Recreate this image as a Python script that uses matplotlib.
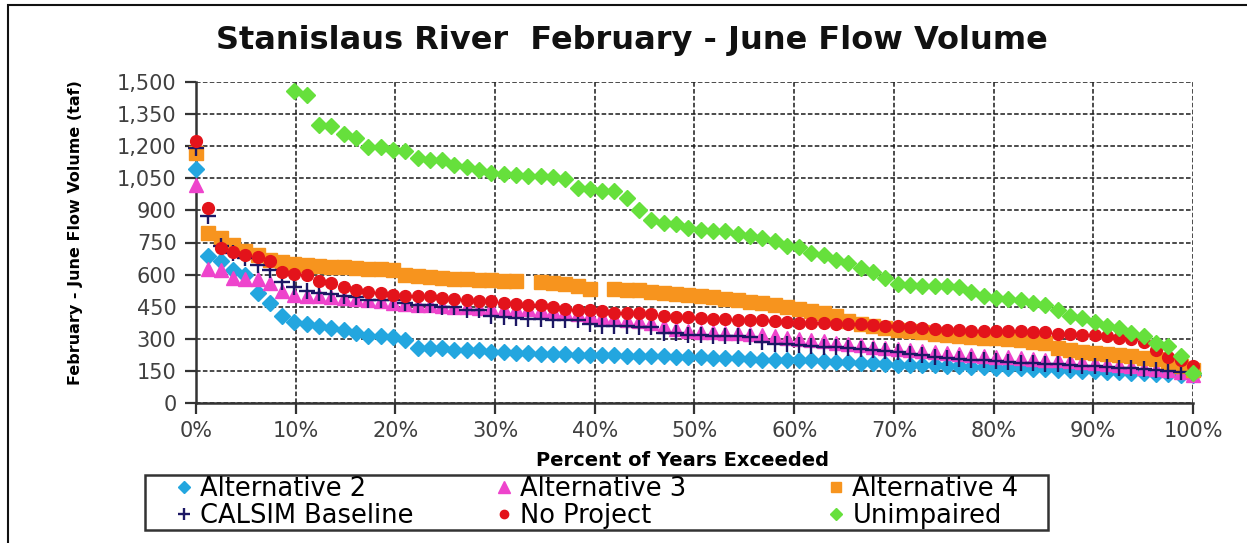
import numpy as np
import matplotlib
matplotlib.use("Agg")
import matplotlib.pyplot as plt
from matplotlib.patches import Rectangle
from matplotlib.ticker import FuncFormatter

nan = float("nan")

# ---- data (taf), 82 years ranked, plotted at exceedance 0..100 % ----
n_years = 82
alt2 = [1093, 685, 662, 623, 600, 514, 467, 408, 377, 371, 358, 350, 343, 327, 311, 311,
        310, 293, 257, 257, 256, 249, 249, 248, 237, 237, 234, 234, 230, 230, 229, 226,
        224, 223, 222, 221, 220, 219, 218, 215, 215, 215, 210, 210, 210, 206, 202, 202,
        199, 199, 199, 197, 193, 191, 189, 186, 181, 179, 178, 177, 176, 175, 172, 169,
        166, 165, 164, 162, 160, 158, 156, 154, 151, 148, 146, 144, 142, 139, 137, 135,
        133, 130]
alt3 = [1020, 625, 622, 585, 580, 578, 562, 525, 506, 498, 498, 497, 491, 484, 480, 475,
        468, 464, 460, 457, 453, 450, 447, 445, 443, 441, 439, 437, 435, 432, 425, 418,
        410, 403, 398, 390, 382, 375, 360, 345, 335, 332, 330, 328, 327, 323, 318, 312,
        305, 300, 295, 288, 282, 276, 270, 264, 258, 254, 248, 243, 238, 233, 229, 224,
        219, 217, 214, 210, 206, 202, 199, 195, 190, 187, 183, 178, 172, 165, 160, 153,
        145, 132]
alt4 = [1168, 795, 770, 740, 710, 690, 668, 660, 650, 645, 640, 637, 634, 630, 627, 625,
        623, 600, 592, 588, 584, 580, 578, 576, 574, 572, 569, nan, 567, 563, 556, 545,
        533, nan, 535, 530, 526, 520, 515, 510, 505, 500, 493, 486, 480, 472, 465, 458,
        450, 440, 430, 420, 405, 385, 370, 362, 350, 342, 336, 330, 323, 318, 314, 310,
        305, 302, 298, 293, 287, 281, 255, 248, 240, 234, 230, 225, 218, 212, 205, 190,
        175, 155]
calsim = [1192, 872, 732, 701, 678, 646, 623, 564, 540, 522, 514, 511, 498, 494, 483, 483,
          480, 467, 460, 460, 449, 449, 436, 436, 405, 402, 397, 392, 392, 389, 389, 389,
          371, 361, 358, 358, 355, 355, 327, 327, 319, 319, 311, 311, 311, 308, 283, 277,
          275, 273, 268, 264, 260, 256, 252, 248, 241, 236, 230, 222, 216, 212, 207, 202,
          199, 195, 191, 188, 185, 183, 180, 177, 174, 171, 168, 165, 162, 158, 154, 150,
          146, 140]
no_project = [1223, 910, 725, 705, 693, 680, 662, 610, 604, 600, 570, 561, 540, 530, 518, 514,
              507, 502, 502, 498, 491, 486, 483, 476, 475, 467, 463, 460, 456, 448, 440, 436,
              433, 428, 420, 420, 420, 415, 408, 404, 400, 396, 393, 392, 389, 388, 386, 382,
              378, 374, 372, 372, 371, 370, 368, 365, 361, 358, 355, 350, 346, 343, 342, 338,
              335, 335, 335, 335, 334, 331, 324, 322, 319, 318, 311, 306, 300, 283, 250, 215,
              200, 175]
unimpaired = [nan, nan, nan, nan, nan, nan, nan, nan, 1460, 1440, 1300, 1293, 1255, 1238, 1198, 1195,
              1182, 1176, 1145, 1137, 1137, 1114, 1103, 1090, 1075, 1070, 1067, 1059, 1059, 1055, 1047, 1005,
              1000, 992, 989, 958, 903, 857, 841, 838, 818, 810, 805, 802, 791, 779, 771, 755,
              735, 730, 700, 690, 668, 654, 631, 612, 584, 558, 552, 548, 545, 545, 540, 520,
              500, 492, 487, 483, 468, 460, 436, 405, 397, 377, 361, 350, 327, 312, 280, 265,
              220, 140]

series_labels = ["Alternative 2", "Alternative 3", "Alternative 4",
                 "CALSIM Baseline", "No Project", "Unimpaired"]
y_ticks = list(range(0, 1501, 150))
x_ticks = list(range(0, 101, 10))

title_text = "Stanislaus River  February - June Flow Volume"
ylabel_text = "February - June Flow Volume (taf)"
xlabel_text = "Percent of Years Exceeded"

# ---- figure ----
W, H = 1247, 543
fig = plt.figure(figsize=(W / 100, H / 100), dpi=100)
fig.patch.set_facecolor("white")

def fx(px):
    return px / W

def fy(py):
    return 1 - py / H

ax = fig.add_axes([fx(196), fy(403), fx(1193) - fx(196), fy(82) - fy(403)])

pct = np.linspace(0, 100, n_years)

styles = [
    dict(marker="D", color="#23A6DF", ms=8.5, mec="#23A6DF"),
    dict(marker="^", color="#EE44CC", ms=10.5, mec="#EE44CC"),
    dict(marker="s", color="#F7941E", ms=10, mec="#F7941E"),
    dict(marker="+", color="#1C1764", ms=11, mew=1.7),
    dict(marker="o", color="#E3131B", ms=8.5, mec="#E3131B"),
    dict(marker="D", color="#66E03C", ms=8.5, mec="#66E03C"),
]
legend_ms = [6, 8, 7, 9, 6, 6]
data = [alt2, alt3, alt4, calsim, no_project, unimpaired]
handles = []
for vals, st, lab in zip(data, styles, series_labels):
    h, = ax.plot(pct, vals, linestyle="none", label=lab, zorder=3, clip_on=False, **st)
    handles.append(h)

ax.set_xlim(0, 100)
ax.set_ylim(0, 1500)
ax.set_xticks(x_ticks)
ax.set_yticks(y_ticks)
ax.xaxis.set_major_formatter(FuncFormatter(lambda v, p: f"{int(round(v))}%"))
ax.yaxis.set_major_formatter(FuncFormatter(lambda v, p: f"{int(v):,}"))

ax.grid(True, which="major", color="#1a1a1a", linestyle=(0, (3, 1.5)), linewidth=1.1, zorder=1)
ax.set_axisbelow(True)
for s in ["top", "right"]:
    ax.spines[s].set_visible(False)
for s in ["left", "bottom"]:
    ax.spines[s].set_linewidth(1.8)
    ax.spines[s].set_color("#333333")
    ax.spines[s].set_zorder(2.5)

ax.tick_params(axis="both", direction="out", length=8, width=1.6, color="#333333",
               labelsize=15, labelcolor="#404040")
ax.tick_params(axis="y", pad=6)
ax.tick_params(axis="x", pad=5)

ax.set_ylabel(ylabel_text, fontsize=11.5, fontweight="bold")
ax.yaxis.set_label_coords((75 - 196) / 997, 0.53)
ax.yaxis.label.set_va("center")

ax.set_xlabel(xlabel_text, fontsize=14, fontweight="bold")
ax.xaxis.set_label_coords((683 - 196) / 997, (403 - 460) / 321)
ax.xaxis.label.set_va("center")

fig.text(fx(632), fy(40), title_text, ha="center", va="center",
         fontsize=23, fontweight="bold", color="#111111")

# ---- legend: box with three columns ----
box = Rectangle((fx(145), fy(530)), fx(1048) - fx(145), fy(475) - fy(530),
                transform=fig.transFigure, fill=False, edgecolor="#333333", lw=1.8)
fig.add_artist(box)
col_left = [176, 496, 828]
col_pairs = [(0, 3), (1, 4), (2, 5)]
for left, (a, b) in zip(col_left, col_pairs):
    leg = fig.legend(handles=[handles[a], handles[b]], labels=[series_labels[a], series_labels[b]],
                     loc="upper left", bbox_to_anchor=(fx(left), fy(476)),
                     frameon=False, fontsize=18.5, handlelength=0.6, handletextpad=0.35,
                     borderaxespad=0, borderpad=0, labelspacing=0.05)
    for lh, idx in zip(leg.legend_handles, (a, b)):
        lh.set_markersize(legend_ms[idx])

# outer frame
frame = Rectangle((fx(8), -0.1), 1.2, fy(5) + 0.1, transform=fig.transFigure,
                  fill=False, edgecolor="#111111", lw=1.5)
fig.add_artist(frame)

fig.savefig("out.png", dpi=100, facecolor="white")
